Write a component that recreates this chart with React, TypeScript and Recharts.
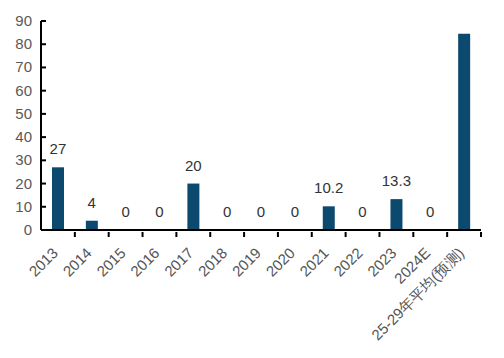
import { ComposedChart, Bar, Line, XAxis, YAxis, LabelList } from "recharts";

const years = ["2013", "2014", "2015", "2016", "2017", "2018", "2019", "2020", "2021", "2022", "2023", "2024E", "25-29年平均(预测)"];
const values = [27, 4, 0, 0, 20, 0, 0, 0, 10.2, 0, 13.3, 0, 84.5];
const labels = ["27", "4", "0", "0", "20", "0", "0", "0", "10.2", "0", "13.3", "0", ""];
const yTicks = [0, 10, 20, 30, 40, 50, 60, 70, 80, 90];

const data = years.map((year, i) => ({ year, value: values[i], label: labels[i] }));

const W = 504;
const H = 358;
const LEFT = 41;
const RIGHT = 23;
const BAND = (W - LEFT - RIGHT) / years.length;
const FONT = "'Liberation Sans', Arial, sans-serif";

function XTick(props: any) {
  const { x, y, payload } = props;
  const tx = x + 1;
  const ty = y + 16;
  return (
    <g>
      <line x1={x + BAND / 2} x2={x + BAND / 2} y1={y - 1} y2={y - 6} stroke="#000" strokeWidth={2} />
      <text
        x={tx}
        y={ty}
        textAnchor="end"
        fill="#555"
        fontSize={15}
        fontFamily={FONT}
        transform={`rotate(-45 ${tx} ${ty})`}
      >
        {payload.value}
      </text>
    </g>
  );
}

function YTick(props: any) {
  const { x, y, payload } = props;
  return (
    <g>
      <line x1={LEFT} x2={LEFT + 5} y1={y} y2={y} stroke="#000" strokeWidth={2} />
      <text x={x - 1} y={y + 5} textAnchor="end" fill="#595959" fontSize={15} fontFamily={FONT}>
        {payload.value}
      </text>
    </g>
  );
}

export default function App() {
  return (
    <div style={{ position: "absolute", left: 0, top: 0, background: "#fff" }}>
      <ComposedChart width={W} height={H} data={data} margin={{ top: 21, right: RIGHT, bottom: 0, left: 0 }}>
        <XAxis
          dataKey="year"
          interval={0}
          height={128}
          tickLine={false}
          axisLine={{ stroke: "#000", strokeWidth: 2 }}
          tick={<XTick />}
        />
        <YAxis
          width={LEFT}
          domain={[0, 90]}
          ticks={yTicks}
          interval={0}
          tickLine={false}
          axisLine={{ stroke: "#000", strokeWidth: 2 }}
          tick={<YTick />}
        />
        <Bar dataKey="value" barSize={12} fill="#0b4a6e" isAnimationActive={false} />
        <Line dataKey="value" stroke="none" dot={false} activeDot={false} isAnimationActive={false}>
          <LabelList dataKey="label" position="top" offset={13} fill="#333" fontSize={15} fontFamily={FONT} />
        </Line>
      </ComposedChart>
    </div>
  );
}
